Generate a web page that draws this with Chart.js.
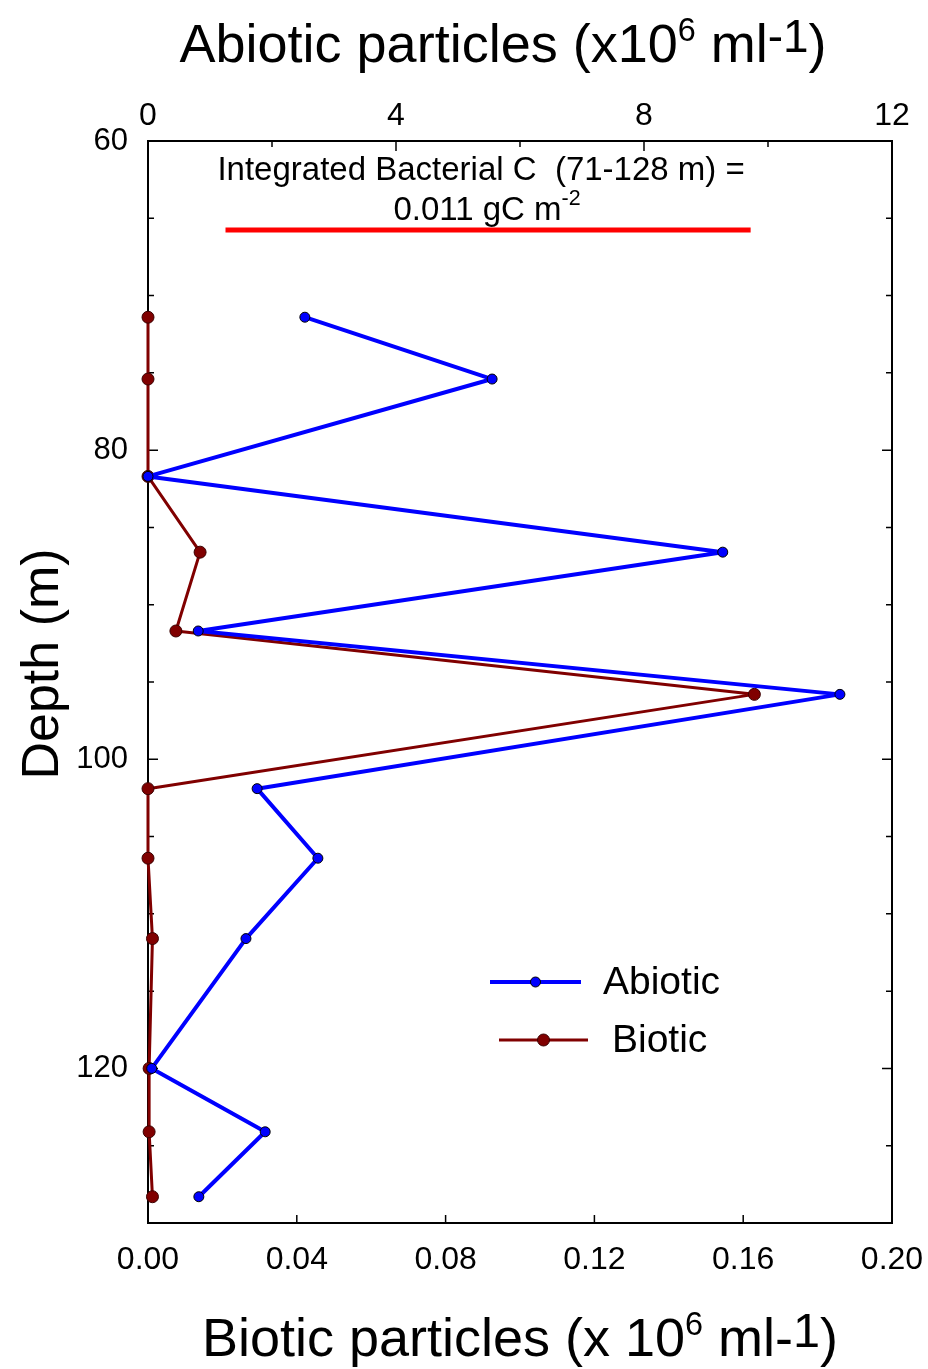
<!DOCTYPE html>
<html>
<head>
<meta charset="utf-8">
<script src="https://cdn.jsdelivr.net/npm/chart.js@4.4.0/dist/chart.umd.min.js"></script>
<style>
  html, body { margin: 0; padding: 0; background: #fff; }
  #wrap { width: 928px; height: 1369px; }
</style>
</head>
<body>
<div id="wrap"><canvas id="depthChart" width="928" height="1369"></canvas></div>
<script>
// values
const depths = [71.4, 75.4, 81.7, 86.6, 91.7, 95.8, 101.9, 106.4, 111.6, 120.0, 124.1, 128.3];
const abiotic = [2.53, 5.55, 0.0, 9.27, 0.81, 11.16, 1.76, 2.74, 1.58, 0.06, 1.89, 0.82];
const biotic = [0, 0, 0, 0.014, 0.0075, 0.163, 0, 0, 0.0012, 0.0003, 0.0003, 0.0012];
const depthTicks = [60, 80, 100, 120];
const abioticTicks = [0, 4, 8, 12];
const bioticTicks = [0.00, 0.04, 0.08, 0.12, 0.16, 0.20];
const integratedSpan = [1.25, 9.72];   // red bar, abiotic units
const integratedDepth = 65.75;

const FONT = "'Liberation Sans', Arial, sans-serif";

function toPoints(xs) {
    return xs.map(function (v, i) { return { x: v, y: depths[i] }; });
}

// draws a string made of normal and raised pieces
function drawRich(ctx, parts, x, y, size, align) {
    let total = 0;
    parts.forEach(function (p) {
        ctx.font = (p.sup ? size * p.scale : size) + 'px ' + FONT;
        p.w = ctx.measureText(p.t).width;
        total += p.w;
    });
    let cx = align === 'center' ? x - total / 2 : x;
    ctx.textAlign = 'left';
    ctx.textBaseline = 'alphabetic';
    parts.forEach(function (p) {
        ctx.font = (p.sup ? size * p.scale : size) + 'px ' + FONT;
        ctx.fillText(p.t, cx, y - (p.sup ? p.rise : 0));
        cx += p.w;
    });
}

const decorations = {
    id: 'decorations',
    beforeDatasetsDraw(chart) {
        const ctx = chart.ctx;
        const a = chart.chartArea;
        const y = chart.scales.y, xTop = chart.scales.xTop, xBot = chart.scales.x;
        ctx.save();
        ctx.strokeStyle = '#000';
        ctx.lineWidth = 1.5;
        // inward tick marks
        y.ticks.forEach(function (t) {
            const py = y.getPixelForValue(t.value);
            const len = depthTicks.includes(t.value) ? 10 : 6;
            ctx.beginPath();
            ctx.moveTo(a.left, py); ctx.lineTo(a.left + len, py);
            ctx.moveTo(a.right, py); ctx.lineTo(a.right - len, py);
            ctx.stroke();
        });
        xTop.ticks.forEach(function (t) {
            const px = xTop.getPixelForValue(t.value);
            const len = abioticTicks.includes(t.value) ? 10 : 6;
            ctx.beginPath();
            ctx.moveTo(px, a.top); ctx.lineTo(px, a.top + len);
            ctx.stroke();
        });
        xBot.ticks.forEach(function (t) {
            const px = xBot.getPixelForValue(t.value);
            ctx.beginPath();
            ctx.moveTo(px, a.bottom); ctx.lineTo(px, a.bottom - 8);
            ctx.stroke();
        });
        // frame
        ctx.lineWidth = 2;
        ctx.strokeRect(a.left, a.top, a.right - a.left, a.bottom - a.top);
        ctx.restore();
    },
    afterDraw(chart) {
        const ctx = chart.ctx;
        const a = chart.chartArea;
        const xTop = chart.scales.xTop;
        ctx.save();
        ctx.fillStyle = '#000';

        // axis titles
        drawRich(ctx, [
            { t: 'Abiotic particles (x10' },
            { t: '6', sup: true, scale: 0.6, rise: 21 },
            { t: ' ml' },
            { t: '-1', sup: true, scale: 0.85, rise: 10 },
            { t: ')' }
        ], (a.left + a.right) / 2 - 17, 62, 54, 'center');

        drawRich(ctx, [
            { t: 'Biotic particles (x 10' },
            { t: '6', sup: true, scale: 0.6, rise: 21 },
            { t: ' ml-' },
            { t: '1', sup: true, scale: 0.9, rise: 9 },
            { t: ')' }
        ], (a.left + a.right) / 2, 1356, 54, 'center');

        ctx.save();
        ctx.translate(58, (a.top + a.bottom) / 2 - 18);
        ctx.rotate(-Math.PI / 2);
        ctx.font = '52px ' + FONT;
        ctx.textAlign = 'center';
        ctx.textBaseline = 'alphabetic';
        ctx.fillText('Depth (m)', 0, 0);
        ctx.restore();

        // integrated carbon note above the red bar
        const cx = (xTop.getPixelForValue(integratedSpan[0]) + xTop.getPixelForValue(integratedSpan[1])) / 2;
        ctx.font = '33px ' + FONT;
        ctx.textAlign = 'center';
        ctx.textBaseline = 'alphabetic';
        ctx.fillText('Integrated Bacterial C  (71-128 m) =', cx - 7, 180);
        drawRich(ctx, [
            { t: '0.011 gC m' },
            { t: '-2', sup: true, scale: 0.65, rise: 15 }
        ], cx - 1, 220, 33, 'center');

        // legend inside the plot
        const rows = [
            { ds: chart.data.datasets[0], x0: 490, x1: 581, yy: 982, tx: 603 },
            { ds: chart.data.datasets[1], x0: 499, x1: 588, yy: 1040, tx: 612 }
        ];
        rows.forEach(function (r) {
            ctx.strokeStyle = r.ds.borderColor;
            ctx.lineWidth = r.ds.borderWidth;
            ctx.beginPath();
            ctx.moveTo(r.x0, r.yy); ctx.lineTo(r.x1, r.yy);
            ctx.stroke();
            ctx.beginPath();
            ctx.arc((r.x0 + r.x1) / 2, r.yy, r.ds.pointRadius, 0, Math.PI * 2);
            ctx.fillStyle = r.ds.pointBackgroundColor;
            ctx.fill();
            ctx.lineWidth = 1;
            ctx.strokeStyle = r.ds.pointBorderColor;
            ctx.stroke();
            ctx.fillStyle = '#000';
            ctx.font = '39px ' + FONT;
            ctx.textAlign = 'left';
            ctx.textBaseline = 'middle';
            ctx.fillText(r.ds.label, r.tx, r.yy + 1);
        });
        ctx.restore();
    }
};

function fixHorizontal(h) {
    return function (s) {
        s.height = h;
        s.paddingLeft = 0;
        s.paddingRight = 0;
    };
}

const ctx = document.getElementById('depthChart').getContext('2d');

new Chart(ctx, {
    type: 'scatter',
    data: {
        datasets: [{
            label: 'Abiotic',
            data: toPoints(abiotic),
            xAxisID: 'xTop',
            showLine: true,
            borderColor: '#0000ff',
            borderWidth: 4,
            borderJoinStyle: 'round',
            pointRadius: 5,
            pointBackgroundColor: '#0000ff',
            pointBorderColor: '#000000',
            pointBorderWidth: 1,
            clip: false
        }, {
            label: 'Biotic',
            data: toPoints(biotic),
            xAxisID: 'x',
            showLine: true,
            borderColor: '#800000',
            borderWidth: 3,
            borderJoinStyle: 'round',
            pointRadius: 6,
            pointBackgroundColor: '#800000',
            pointBorderColor: '#3a0000',
            pointBorderWidth: 1,
            clip: false
        }, {
            label: 'Integrated',
            data: integratedSpan.map(function (v) { return { x: v, y: integratedDepth }; }),
            xAxisID: 'xTop',
            showLine: true,
            borderColor: '#ff0000',
            borderWidth: 5,
            pointRadius: 0,
            clip: false
        }]
    },
    options: {
        responsive: false,
        animation: false,
        devicePixelRatio: 1,
        layout: { padding: { right: 36 } },
        plugins: {
            legend: { display: false },
            tooltip: { enabled: false }
        },
        scales: {
            y: {
                type: 'linear',
                position: 'left',
                reverse: true,
                min: 60,
                max: 130,
                afterFit: function (s) {
                    s.width = 148;
                    s.paddingTop = 0;
                    s.paddingBottom = 0;
                },
                ticks: {
                    stepSize: 5,
                    autoSkip: false,
                    padding: 20,
                    color: '#000',
                    font: { family: FONT, size: 31 },
                    callback: function (v) { return depthTicks.includes(v) ? String(v) : ''; }
                },
                grid: { display: false, drawTicks: false },
                border: { display: false }
            },
            xTop: {
                type: 'linear',
                position: 'top',
                min: 0,
                max: 12,
                afterFit: fixHorizontal(141),
                ticks: {
                    stepSize: 2,
                    autoSkip: false,
                    maxRotation: 0,
                    padding: 6,
                    color: '#000',
                    font: { family: FONT, size: 32 },
                    callback: function (v) { return abioticTicks.includes(v) ? String(v) : ''; }
                },
                grid: { display: false, drawTicks: false },
                border: { display: false }
            },
            x: {
                type: 'linear',
                position: 'bottom',
                min: 0,
                max: 0.2,
                afterFit: fixHorizontal(146),
                afterBuildTicks: function (s) {
                    s.ticks = bioticTicks.map(function (v) { return { value: v }; });
                },
                ticks: {
                    autoSkip: false,
                    maxRotation: 0,
                    padding: 18,
                    color: '#000',
                    font: { family: FONT, size: 32 },
                    callback: function (v) { return Number(v).toFixed(2); }
                },
                grid: { display: false, drawTicks: false },
                border: { display: false }
            }
        }
    },
    plugins: [decorations]
});
</script>
</body>
</html>
